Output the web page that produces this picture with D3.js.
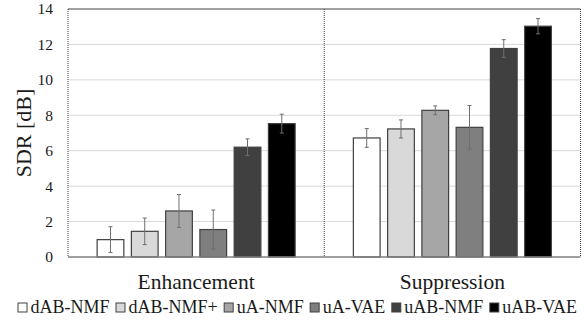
<!DOCTYPE html>
<html>
<head>
<meta charset="utf-8">
<script src="https://cdn.jsdelivr.net/npm/d3@7"></script>
<style>
  body { margin: 0; background: #fff; }
  svg text { font-family: "Liberation Serif", "DejaVu Serif", serif; }
</style>
</head>
<body>
<svg id="chart"></svg>
<script>
// values
const categories = ["Enhancement", "Suppression"];
const methods = ["dAB-NMF", "dAB-NMF+", "uA-NMF", "uA-VAE", "uAB-NMF", "uAB-VAE"];
const enhancement = [0.98, 1.45, 2.6, 1.55, 6.2, 7.53];
const enhancementErr = [0.73, 0.75, 0.93, 1.1, 0.47, 0.53];
const suppression = [6.72, 7.23, 8.28, 7.32, 11.77, 13.03];
const suppressionErr = [0.53, 0.51, 0.25, 1.23, 0.5, 0.43];
const yTicks = [0, 2, 4, 6, 8, 10, 12, 14];

const fills = ["#ffffff", "#d9d9d9", "#a6a6a6", "#7f7f7f", "#404040", "#000000"];
const serif = "'Liberation Serif', 'DejaVu Serif', serif";

const width = 584, height = 320;
const margin = { top: 9, right: 3.5, bottom: 63, left: 68 };

const rows = [];
categories.forEach((c, ci) => {
    const vals = ci === 0 ? enhancement : suppression;
    const errs = ci === 0 ? enhancementErr : suppressionErr;
    methods.forEach((m, mi) => rows.push({ cat: c, method: m, value: vals[mi], err: errs[mi] }));
});

const svg = d3.select("#chart").attr("width", width).attr("height", height);

const x0 = d3.scaleBand()
    .domain(categories)
    .range([margin.left, width - margin.right])
    .padding(0);

const x1 = d3.scaleBand()
    .domain(methods)
    .range([0, x0.bandwidth()])
    .paddingInner(0.22)
    .paddingOuter(0.85);

const y = d3.scaleLinear()
    .domain([0, 14])
    .range([height - margin.bottom, margin.top]);

const color = d3.scaleOrdinal().domain(methods).range(fills);

// gridlines
svg.append("g")
    .selectAll("line")
    .data(yTicks.filter(t => t > 0 && t < 14))
    .join("line")
    .attr("x1", margin.left).attr("x2", width - margin.right)
    .attr("y1", d => y(d)).attr("y2", d => y(d))
    .attr("stroke", "#d9d9d9")
    .attr("stroke-width", 1);

// y axis labels
const yAxis = g => g
    .attr("transform", `translate(${margin.left},0)`)
    .attr("font-family", serif)
    .call(d3.axisLeft(y).tickValues(yTicks).tickSize(0).tickPadding(15))
    .call(g => g.select(".domain").remove())
    .call(g => g.selectAll("text")
        .attr("font-family", serif)
        .attr("font-size", 15.5)
        .attr("fill", "#1a1a1a"));
svg.append("g").call(yAxis);

// bars
const groups = svg.append("g")
    .selectAll("g")
    .data(categories)
    .join("g")
    .attr("transform", d => `translate(${x0(d)},0)`);

groups.selectAll("rect")
    .data(c => rows.filter(r => r.cat === c))
    .join("rect")
    .attr("x", d => x1(d.method))
    .attr("y", d => y(d.value))
    .attr("width", x1.bandwidth())
    .attr("height", d => y(0) - y(d.value))
    .attr("fill", d => color(d.method))
    .attr("stroke", "#404040")
    .attr("stroke-width", 1.2);

// error bars
const eb = groups.selectAll("g.err")
    .data(c => rows.filter(r => r.cat === c))
    .join("g")
    .attr("class", "err")
    .attr("stroke", "#6f6f6f")
    .attr("stroke-width", 1);

eb.append("line")
    .attr("x1", d => x1(d.method) + x1.bandwidth() / 2)
    .attr("x2", d => x1(d.method) + x1.bandwidth() / 2)
    .attr("y1", d => y(d.value + d.err))
    .attr("y2", d => y(d.value - d.err));
eb.append("line")
    .attr("x1", d => x1(d.method) + x1.bandwidth() / 2 - 2)
    .attr("x2", d => x1(d.method) + x1.bandwidth() / 2 + 2)
    .attr("y1", d => y(d.value + d.err))
    .attr("y2", d => y(d.value + d.err));
eb.append("line")
    .attr("x1", d => x1(d.method) + x1.bandwidth() / 2 - 2)
    .attr("x2", d => x1(d.method) + x1.bandwidth() / 2 + 2)
    .attr("y1", d => y(d.value - d.err))
    .attr("y2", d => y(d.value - d.err));

// plot frame: top solid, verticals dotted
svg.append("line")
    .attr("x1", margin.left).attr("x2", width - margin.right)
    .attr("y1", y(14)).attr("y2", y(14))
    .attr("stroke", "#404040").attr("stroke-width", 1);

svg.append("g")
    .selectAll("line")
    .data([margin.left, x0("Suppression"), width - margin.right])
    .join("line")
    .attr("x1", d => d).attr("x2", d => d)
    .attr("y1", y(14)).attr("y2", y(0))
    .attr("stroke", "#404040")
    .attr("stroke-width", 1)
    .attr("stroke-dasharray", "1,1");

// bottom axis
svg.append("line")
    .attr("x1", margin.left).attr("x2", width - margin.right)
    .attr("y1", y(0)).attr("y2", y(0))
    .attr("stroke", "#7f7f7f").attr("stroke-width", 1.5);

// category labels
svg.append("g")
    .selectAll("text")
    .data(categories)
    .join("text")
    .attr("x", d => x0(d) + x0.bandwidth() / 2)
    .attr("y", 289)
    .attr("text-anchor", "middle")
    .attr("font-family", serif)
    .attr("font-size", 21.5)
    .attr("fill", "#1a1a1a")
    .text(d => d);

// y label
svg.append("text")
    .attr("transform", `translate(31,${(y(0) + y(14)) / 2}) rotate(-90)`)
    .attr("text-anchor", "middle")
    .attr("font-family", serif)
    .attr("font-size", 22)
    .attr("fill", "#1a1a1a")
    .text("SDR [dB]");

// legend
const legend = svg.append("g");
const items = legend.selectAll("g")
    .data(methods)
    .join("g");
items.append("rect")
    .attr("x", 0).attr("y", -10)
    .attr("width", 9).attr("height", 9)
    .attr("fill", d => color(d))
    .attr("stroke", "#404040")
    .attr("stroke-width", 1);
items.append("text")
    .attr("x", 12.5)
    .attr("y", 0)
    .attr("font-family", serif)
    .attr("font-size", 18)
    .attr("fill", "#1a1a1a")
    .text(d => d);

// spread the legend entries between x=18 and x=577
const widths = [];
items.each(function () { widths.push(this.getBBox().width); });
const gap = (577 - 18 - d3.sum(widths)) / (methods.length - 1);
let pos = 18;
items.each(function (d, i) {
    d3.select(this).attr("transform", `translate(${pos},313)`);
    pos += widths[i] + gap;
});
</script>
</body>
</html>
